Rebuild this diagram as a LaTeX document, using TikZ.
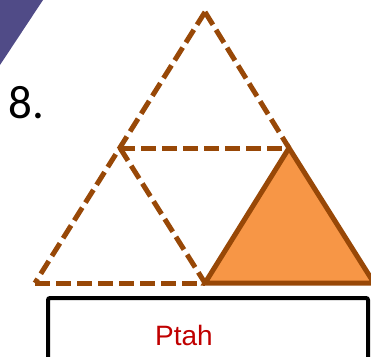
\documentclass[tikz,border=0pt]{standalone}
\usepackage{fontspec}
\newfontfamily\numfont{Carlito}
\newfontfamily\namefont{Liberation Sans}
\definecolor{deepbrown}{RGB}{152,72,7}
\definecolor{lightorange}{RGB}{247,150,70}
\definecolor{slatepurple}{RGB}{80,75,135}
\definecolor{deepred}{RGB}{192,0,0}

\begin{document}
\begin{tikzpicture}[
    x=1pt, y=-1pt,
    dashedge/.style={draw=deepbrown, line width=5pt, dash pattern=on 15pt off 6pt},
    solidtri/.style={draw=deepbrown, fill=lightorange, line width=5pt, line join=miter},
    namebox/.style={draw=black, line width=4pt, rounded corners=2pt}
]
    \useasboundingbox (0,0) rectangle (371,356);
    \clip (0,0) rectangle (371,356);

    % Corner decoration
    \fill[slatepurple] (0,0) -- (43,0) -- (0,65) -- cycle;

    % Triangle vertices
    \coordinate (apex) at (205,12);
    \coordinate (midl) at (120,148);
    \coordinate (midr) at (289,148);
    \coordinate (botl) at (35,283);
    \coordinate (botm) at (205,283);
    \coordinate (botr) at (374,283);

    % Dashed outline of the big triangle
    \draw[dashedge] (apex) -- (botl);
    \draw[dashedge] (apex) -- (midr);
    \draw[dashedge] (midl) -- (midr);
    \draw[dashedge] (midl) -- (botm);
    \draw[dashedge] (botl) -- (botm);

    % Filled small triangle
    \draw[solidtri] (botm) -- (midr) -- (botr) -- cycle;

    % Question number
    \node[anchor=base west, inner sep=0pt, font=\numfont\fontsize{47}{50}\selectfont] (qnum) at (8,118) {8.};

    % Answer box
    \draw[namebox] (48,298) rectangle (368,375);
    \node[anchor=base, inner sep=0pt, text=deepred, font=\namefont\fontsize{28}{30}\selectfont] (answer) at (184,345) {Ptah};
\end{tikzpicture}
\end{document}
